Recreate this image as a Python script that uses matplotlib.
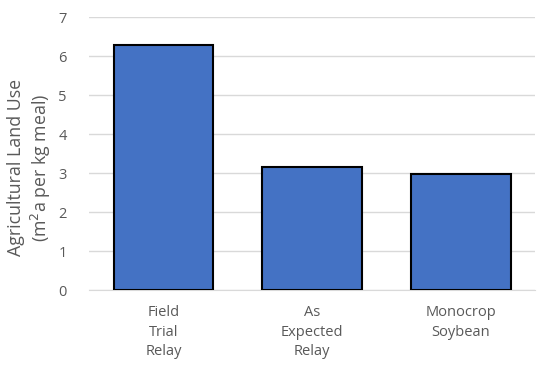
import matplotlib
matplotlib.use("Agg")
import matplotlib.pyplot as plt

categories = ["Field\nTrial\nRelay", "As\nExpected\nRelay", "Monocrop\nSoybean"]
values = [6.28, 3.15, 2.98]
yticks = [0, 1, 2, 3, 4, 5, 6, 7]

plt.rcParams['font.family'] = ['Open Sans', 'DejaVu Sans']
txt = '#595959'

fig = plt.figure(figsize=(5.5, 3.7), dpi=100)
ax = fig.add_axes([0.162, 0.216, 0.811, 0.738])
x = range(len(categories))
ax.bar(x, values, width=0.67, color='#4472c4', edgecolor='black', linewidth=1.5, zorder=3)
ax.set_xlim(-0.5, 2.5)
ax.set_ylim(0, 7)
ax.set_yticks(yticks)
ax.set_yticklabels([str(t) for t in yticks], color=txt, fontsize=10.5)
ax.set_xticks(list(x))
ax.set_xticklabels(categories, color=txt, fontsize=10.5, linespacing=1.4)
ax.tick_params(axis='both', length=0)
ax.tick_params(axis='y', pad=16)
ax.tick_params(axis='x', pad=11)
ax.grid(axis='y', color='#d9d9d9', linewidth=1, zorder=0)
for s in ['top', 'right', 'left']:
    ax.spines[s].set_visible(False)
ax.spines['bottom'].set_color('#d9d9d9')
fig.text(30 / 550, 1 - 168 / 370, "Agricultural Land Use\n(m$^2$a per kg meal)", color=txt,
         fontsize=12.8, rotation=90, ha='center', va='center', multialignment='center', linespacing=1.2)
fig.savefig("out.png", dpi=100)
